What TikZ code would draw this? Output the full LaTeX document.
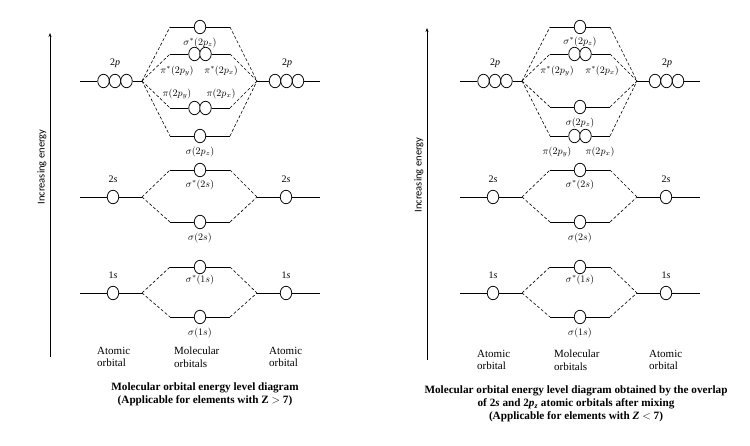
\documentclass[tikz,border=0pt]{standalone}
\usepackage{fontspec}
\setmainfont{Liberation Serif}
\newfontfamily\calib{Carlito}
\usetikzlibrary{shapes.geometric,arrows.meta}
\tikzset{
 orb/.style={draw, ellipse, fill=white, inner sep=0pt, minimum width=11.5pt, minimum height=13.5pt, line width=0.75pt},
 lvl/.style={line width=0.75pt},
 conn/.style={line width=0.6pt, dash pattern=on 3pt off 2pt},
 lab/.style={font=\fontsize{10}{11}\selectfont, inner sep=0pt},
 bot/.style={font=\fontsize{11}{12.5}\selectfont, inner sep=0pt, align=left, anchor=west},
 ttl/.style={font=\fontsize{11.2}{13}\selectfont\bfseries, inner sep=0pt, align=center},
 axis/.style={line width=0.8pt, -{Stealth[length=4pt,width=3pt]}},
 axlab/.style={font=\calib\fontsize{10.5}{12}\selectfont, rotate=90, inner sep=0pt},
}
\newcommand\AOlevel[4]{% prefix, tag, y, label
 \coordinate (#1#2Ls) at (80,#3);
 \coordinate (#1#2Lj) at (142,#3);
 \node[orb] (#1#2Lc) at (113,#3) {};
 \coordinate (#1#2Rj) at (257,#3);
 \coordinate (#1#2Re) at (320,#3);
 \node[orb] (#1#2Rc) at (286,#3) {};
 \draw[lvl] (#1#2Ls) -- (#1#2Lc) -- (#1#2Lj);
 \draw[lvl] (#1#2Rj) -- (#1#2Rc) -- (#1#2Re);
 \node[lab] (#1#2Llab) at (113,#3-18) {#4};
 \node[lab] (#1#2Rlab) at (286,#3-18) {#4};
}
\newcommand\MOsingle[2]{% name, y
 \coordinate (#1a) at (170,#2); \coordinate (#1b) at (230,#2);
 \node[orb] (#1c) at (200,#2) {};
 \draw[lvl] (#1a) -- (#1c) -- (#1b);}
\newcommand\MOdouble[2]{% name, y
 \coordinate (#1a) at (170,#2); \coordinate (#1b) at (230,#2);
 \node[orb] (#1c) at (194.5,#2) {}; \node[orb] (#1d) at (205.5,#2) {};
 \draw[lvl] (#1a) -- (#1c); \draw[lvl] (#1d) -- (#1b);}
\newcommand\MOjoin[2]{% prefix-tag of AO, MO name
 \draw[conn] (#1Lj) -- (#2a);
 \draw[conn] (#2b) -- (#1Rj);}
\newcommand\PTwo[2]{% prefix, y
 \coordinate (#1pLs) at (80,#2);
 \coordinate (#1pLj) at (142,#2);
 \node[orb] (#1pL1) at (103.5,#2) {};
 \node[orb] (#1pL2) at (115,#2) {};
 \node[orb] (#1pL3) at (126.5,#2) {};
 \coordinate (#1pRj) at (257,#2);
 \coordinate (#1pRe) at (320,#2);
 \node[orb] (#1pR1) at (275,#2) {};
 \node[orb] (#1pR2) at (286.5,#2) {};
 \node[orb] (#1pR3) at (298,#2) {};
 \draw[lvl] (#1pLs) -- (#1pL1); \draw[lvl] (#1pL3) -- (#1pLj);
 \draw[lvl] (#1pRj) -- (#1pR1); \draw[lvl] (#1pR3) -- (#1pRe);
 \node[lab] (#1pLlab) at (115,#2-18) {2\textit{p}};
 \node[lab] (#1pRlab) at (287,#2-18) {2\textit{p}};
}
\newcommand\Common[2]{% prefix, dy
 \PTwo{#1}{81}
 \AOlevel{#1}{s2}{197}{2\textit{s}}
 \MOsingle{#1ss}{170} \MOsingle{#1sb}{222}
 \MOjoin{#1s2}{#1ss} \MOjoin{#1s2}{#1sb}
 \node[lab] (#1sslab) at (200,185) {$\sigma^*(2s)$};
 \node[lab] (#1sblab) at (200,238) {$\sigma(2s)$};
 \AOlevel{#1}{s1}{293}{1\textit{s}}
 \MOsingle{#1os}{267} \MOsingle{#1ob}{317}
 \MOjoin{#1s1}{#1os} \MOjoin{#1s1}{#1ob}
 \node[lab] (#1oslab) at (200,280) {$\sigma^*(1s)$};
 \node[lab] (#1oblab) at (200,333) {$\sigma(1s)$};
 \node[bot] (#1ba) at (97,357+#2) {Atomic\\orbital};
 \node[bot] (#1bm) at (174,357+#2) {Molecular\\orbitals};
 \node[bot] (#1bb) at (269,357+#2) {Atomic\\orbital};
}
\begin{document}
\begin{tikzpicture}[x=1pt,y=-1pt]
\useasboundingbox (0,0) rectangle (750,446);
% ---------- left diagram ----------
\coordinate (La0) at (50,357); \coordinate (La1) at (50,33);
\draw[axis] (La0) -- (La1);
\node[axlab] (Lax) at (42,167) {Increasing energy};
\Common{L}{0}
\MOsingle{Lpss}{27} \MOdouble{Lpps}{54} \MOdouble{Lppb}{108} \MOsingle{Lpsb}{136}
\MOjoin{Lp}{Lpss} \MOjoin{Lp}{Lpps} \MOjoin{Lp}{Lppb} \MOjoin{Lp}{Lpsb}
\node[lab] (Lpsslab) at (200,43) {$\sigma^*(2p_z)$};
\node[lab] (Lppsl) at (177,71) {$\pi^*(2p_y)$};
\node[lab] (Lppsr) at (221,71) {$\pi^*(2p_x)$};
\node[lab] (Lppbl) at (177,94) {$\pi(2p_y)$};
\node[lab] (Lppbr) at (221,94) {$\pi(2p_x)$};
\node[lab] (Lpsblab) at (200,152) {$\sigma(2p_z)$};
\node[ttl] (Lt) at (205,394) {Molecular orbital energy level diagram\\(Applicable for elements with Z $>$ 7)};
% ---------- right diagram ----------
\coordinate (Ra0) at (427,360); \coordinate (Ra1) at (427,28);
\draw[axis] (Ra0) -- (Ra1);
\node[axlab] (Rax) at (419,175) {Increasing energy};
\begin{scope}[xshift=380pt]
\Common{R}{3}
\MOsingle{Rpss}{27} \MOdouble{Rpps}{54} \MOsingle{Rpsb}{107} \MOdouble{Rppb}{136}
\MOjoin{Rp}{Rpss} \MOjoin{Rp}{Rpps} \MOjoin{Rp}{Rpsb} \MOjoin{Rp}{Rppb}
\node[lab] (Rpsslab) at (200,42) {$\sigma^*(2p_z)$};
\node[lab] (Rppsl) at (177,71) {$\pi^*(2p_y)$};
\node[lab] (Rppsr) at (222,71) {$\pi^*(2p_x)$};
\node[lab] (Rpsblab) at (200,123) {$\sigma(2p_z)$};
\node[lab] (Rppbl) at (177,152) {$\pi(2p_y)$};
\node[lab] (Rppbr) at (220,152) {$\pi(2p_x)$};
\end{scope}
\node[ttl] (Rt) at (576,404) {Molecular orbital energy level diagram obtained by the overlap\\of 2\textit{s} and 2\textit{p}\textsubscript{\textit{z}} atomic orbitals after mixing\\(Applicable for elements with \textit{Z} $<$ 7)};
\end{tikzpicture}
\end{document}
